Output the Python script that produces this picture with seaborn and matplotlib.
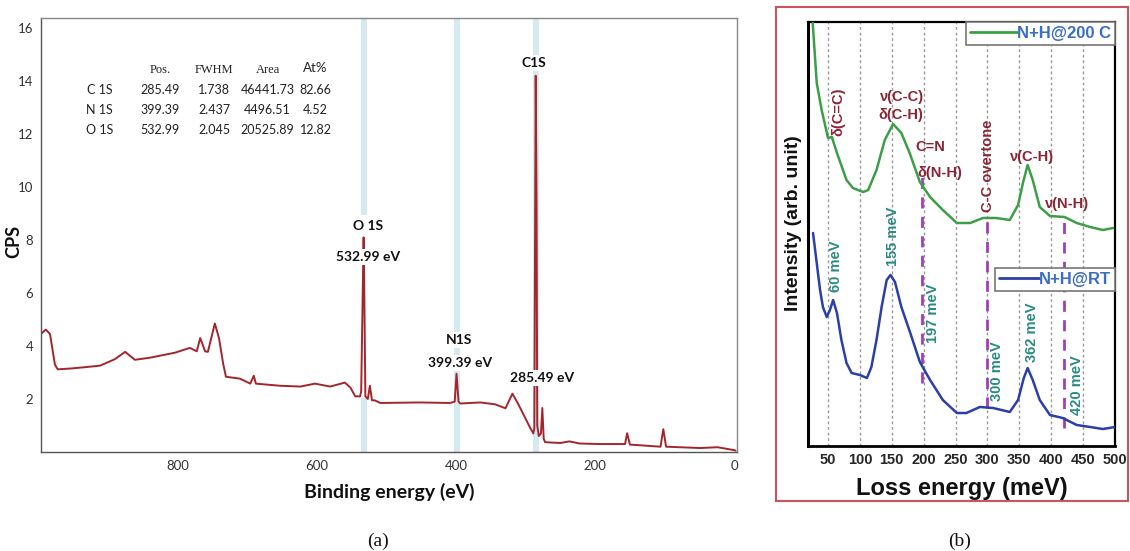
import numpy as np
import pandas as pd
import matplotlib
matplotlib.use("Agg")
import matplotlib.pyplot as plt
import seaborn as sns
from matplotlib.patches import Rectangle
from matplotlib.ticker import MultipleLocator
from matplotlib.lines import Line2D
from matplotlib.font_manager import FontProperties

# ---------------- Panel (a): XPS survey ----------------
xps_energy = [997, 990, 984, 977, 973, 955, 934, 912, 891, 876, 862, 840, 804, 783,
              773, 768, 761, 757, 747, 741, 735, 731, 711, 696, 691, 688, 653, 624,
              603, 581, 560, 552, 545, 538, 536.5, 534, 533, 532, 530.5, 527, 524,
              521, 517, 509, 452, 409, 402, 399.4, 396.5, 394, 365, 344, 329, 319,
              311, 294, 289, 287.5, 285.5, 284.3, 283.3, 281, 278, 276, 274, 272,
              250, 237, 222, 193, 157, 154, 150, 106, 102, 98, 49, 24, 0, -2]
xps_cps = [4.46, 4.62, 4.45, 3.3, 3.12, 3.15, 3.2, 3.26, 3.5, 3.78, 3.48, 3.56, 3.75, 3.93,
           3.8, 4.3, 3.8, 3.78, 4.85, 4.3, 3.33, 2.84, 2.77, 2.58, 2.88, 2.58, 2.5, 2.47,
           2.58, 2.47, 2.62, 2.43, 2.1, 2.1, 2.3, 6.5, 8.1, 6.0, 2.1, 2.0, 2.5,
           1.95, 1.95, 1.85, 1.87, 1.85, 1.9, 2.95, 1.9, 1.83, 1.87, 1.8, 1.65, 2.2,
           1.83, 0.94, 0.7, 0.9, 14.2, 9.5, 1.0, 0.6, 0.7, 1.66, 0.5, 0.37,
           0.34, 0.4, 0.32, 0.3, 0.3, 0.71, 0.28, 0.2, 0.86, 0.2, 0.15, 0.18, 0.07, 0.05]

peak_names = ["C1S", "O 1S", "N1S"]
peak_positions = [285.49, 532.99, 399.39]
peak_value_labels = ["285.49 eV", "532.99 eV", "399.39 eV"]

table_header = ["Pos.", "FWHM", "Area", "At%"]
table_rows = ["C 1S", "N 1S", "O 1S"]
table_pos = ["285.49", "399.39", "532.99"]
table_fwhm = ["1.738", "2.437", "2.045"]
table_area = ["46441.73", "4496.51", "20525.89"]
table_at = ["82.66", "4.52", "12.82"]

# ---------------- Panel (b): HREELS ----------------
green_energy = [26, 32.3, 40, 50, 56, 64, 79, 89, 105, 113, 126, 139, 152, 165, 178, 194,
                210, 230, 252, 273, 293, 314, 335, 348, 356, 363, 371, 382, 398, 421,
                440, 461, 481, 497]
green_int = [423, 363, 336, 308, 309, 293, 266, 258, 254, 256, 276, 306, 322, 313, 293, 264,
             249, 236, 223, 223, 228, 228, 226, 241, 264, 281, 266, 239, 230, 229,
             223, 219, 216, 218]
blue_energy = [26.5, 37.5, 42, 48, 53, 58, 64, 71, 79, 87, 100, 111, 118, 126, 134, 142,
               148, 155, 165, 179, 194, 210, 230, 252, 267, 288, 309, 335, 348, 357,
               363, 371, 382, 398, 418, 440, 461, 481, 500]
blue_int = [213, 156, 139, 129, 136, 146, 133, 106, 83, 73, 71, 68, 79, 106, 139, 166,
            171, 164, 139, 113, 84, 66, 46, 33, 33, 39, 38, 34, 46, 68,
            78, 66, 46, 31, 28, 21, 19, 17, 19]

marker_energy = [197, 300, 420]
marker_low = [63, 38, 18]
marker_high = [271, 229, 229]

mode_labels = ["δ(C=C)", "ν(C-C)", "δ(C-H)", "C=N", "δ(N-H)", "C-C overtone", "ν(C-H)", "ν(N-H)"]
mode_x = [65.7, 165.5, 164.6, 210, 225.5, 300.8, 370.5, 424]
mode_y = [334, 349, 331, 299, 273, 280, 289, 242]
mode_rot = [90, 0, 0, 0, 0, 90, 0, 0]

mev_labels = ["60 meV", "155 meV", "197 meV", "300 meV", "362 meV", "420 meV"]
mev_x = [62.5, 152, 214, 315.6, 370.5, 441]
mev_y = [180, 210, 133, 75, 114, 61]

series_names = ["N+H@200 C", "N+H@RT"]

# ---------------- Styling ----------------
sns.set_style("white")
plt.rcParams["font.family"] = ["Lato", "DejaVu Sans"]

W, H = 1130, 551
fig = plt.figure(figsize=(W / 100, H / 100), dpi=100)

def fx(px):
    return px / W

def fy(py):
    return 1 - py / H

# ---- panel a ----
ax = fig.add_axes([fx(41), fy(452), (737 - 41) / W, (452 - 18) / H])
dfa = pd.DataFrame({"energy": xps_energy, "cps": xps_cps})
band_c = "#d4eaf0"
ax.axvspan(285.5 - 4.3, 285.5 + 4.3, color=band_c, lw=0, zorder=0)
ax.axvspan(399.4 - 4.3, 399.4 + 4.3, color=band_c, lw=0, zorder=0)
ax.axvspan(533.0 - 4.3, 533.0 + 4.3, ymin=0.546, ymax=1, color=band_c, lw=0, zorder=0)
ax.axvspan(533.0 - 4.3, 533.0 + 4.3, ymin=0, ymax=0.1245, color=band_c, lw=0, zorder=0)
sns.lineplot(data=dfa, x="energy", y="cps", ax=ax, color="#a3262c", lw=1.4,
             estimator=None, sort=True, legend=False, zorder=2)
ax.set_xlim(997, -4)
ax.set_ylim(0, 16.38)
ax.set_xticks([800, 600, 400, 200, 0])
ax.xaxis.set_minor_locator(MultipleLocator(50))
ax.set_yticks([2, 4, 6, 8, 10, 12, 14, 16])
ax.yaxis.set_minor_locator(MultipleLocator(1))
ax.tick_params(axis="both", which="both", direction="out", color="#666", labelcolor="#333",
               labelsize=9.5, width=0.8)
ax.tick_params(axis="both", which="major", length=3, pad=2.5)
ax.tick_params(axis="both", which="minor", length=2)
for s in ["left", "bottom"]:
    ax.spines[s].set_color("#555")
    ax.spines[s].set_linewidth(1.0)
for s in ["top", "right"]:
    ax.spines[s].set_color("#888")
    ax.spines[s].set_linewidth(1.0)
ax.set_xlabel("")
ax.set_ylabel("")
ax.text(0.5, -(492 - 452) / 434, "Binding energy (eV)", transform=ax.transAxes,
        fontsize=14, fontweight="bold", color="#111", ha="center", va="center")
ax.text(-(41 - 14) / 696, (452 - 241) / 434, "CPS", transform=ax.transAxes, rotation=90,
        fontsize=13, fontweight="bold", color="#111", ha="center", va="center")

lab_kw = dict(fontsize=10, fontweight="bold", color="#111", ha="center", va="center",
              zorder=5, bbox=dict(facecolor="white", edgecolor="none", pad=1.5))
ax.text(287.8, 14.69, peak_names[0], **lab_kw)
ax.text(275.8, 2.79, peak_value_labels[0], **lab_kw)
ax.text(527.0, 8.53, peak_names[1], **lab_kw)
ax.text(527.0, 7.36, peak_value_labels[1], **lab_kw)
ax.text(396.0, 4.23, peak_names[2], **lab_kw)
ax.text(394.0, 3.36, peak_value_labels[2], **lab_kw)

col_x = [160, 214, 267.5, 315.5]
serif = ["Liberation Serif", "DejaVu Serif"]
for i, h in enumerate(table_header):
    fam = serif if i < 3 else ["Lato", "DejaVu Sans"]
    fig.text(fx(col_x[i]), fy(70 if i < 3 else 68), h, ha="center", va="center",
             fontsize=9 if i < 3 else 9.5, family=fam, color="#222")
row_y = [90, 110, 130]
for r in range(3):
    fig.text(fx(99.5), fy(row_y[r]), table_rows[r], ha="center", va="center", fontsize=9, color="#222")
    vals = [table_pos[r], table_fwhm[r], table_area[r], table_at[r]]
    for c, v in enumerate(vals):
        fig.text(fx(col_x[c]), fy(row_y[r]), v, ha="center", va="center", fontsize=9, color="#222")

# ---- panel b ----
bx = fig.add_axes([fx(808), fy(446), (1115 - 808) / W, (446 - 22) / H])
green = "#3d9e48"
blue = "#2a3fa8"
arial_b = ["Liberation Sans", "DejaVu Sans"]
dfg = pd.DataFrame({"energy": green_energy, "intensity": green_int})
dfb = pd.DataFrame({"energy": blue_energy, "intensity": blue_int})
bx.set_xlim(18.6, 500)
bx.set_ylim(0, 424)
bx.xaxis.set_major_locator(MultipleLocator(50))
bx.xaxis.set_minor_locator(MultipleLocator(25))
bx.grid(axis="x", which="major", linestyle=(0, (2, 2)), color="#999", lw=1.0, zorder=0)
bx.vlines(marker_energy, marker_low, marker_high, colors="#a040b4",
          linestyles=(0, (4, 3)), lw=2.0, zorder=1)
sns.lineplot(data=dfg, x="energy", y="intensity", ax=bx, color=green, lw=1.8,
             estimator=None, legend=False, zorder=3)
sns.lineplot(data=dfb, x="energy", y="intensity", ax=bx, color=blue, lw=1.8,
             estimator=None, legend=False, zorder=3)
bx.set_yticks([])
bx.set_xlabel("")
bx.set_ylabel("")
for s in bx.spines.values():
    s.set_color("black")
    s.set_linewidth(1.6)
bx.spines["left"].set_linewidth(2.2)
bx.spines["bottom"].set_linewidth(2.0)
bx.tick_params(axis="x", which="both", direction="in", color="black", width=1.5)
bx.tick_params(axis="x", which="major", length=5, pad=5)
bx.tick_params(axis="x", which="minor", length=3)
for t in bx.get_xticklabels():
    t.set_fontfamily(arial_b)
    t.set_fontweight("bold")
    t.set_fontsize(10.5)
bx.text(0.5, -(488 - 446) / 424, "Loss energy (meV)", transform=bx.transAxes,
        fontsize=17, fontweight="bold", family=arial_b, color="#111", ha="center", va="center")
bx.text(-(808 - 793) / 307, (446 - 223) / 424, "Intensity (arb. unit)", transform=bx.transAxes,
        rotation=90, fontsize=14, fontweight="bold", family=arial_b, color="#111",
        ha="center", va="center")

for t, x, y, r in zip(mode_labels, mode_x, mode_y, mode_rot):
    bx.text(x, y, t, rotation=r, ha="center", va="center", fontsize=10.5,
            fontweight="bold", color="#8c2434", family=arial_b, zorder=4)
for t, x, y in zip(mev_labels, mev_x, mev_y):
    bx.text(x, y, t, rotation=90, ha="center", va="center", fontsize=10.5,
            fontweight="bold", color="#2a8a82", family=arial_b, zorder=4)

leg_prop = FontProperties(family=arial_b, weight="bold", size=12)
leg1 = bx.legend([Line2D([], [], color=green, lw=2)], [series_names[0]], loc="upper right",
                 bbox_to_anchor=(1.0, 1.0), borderaxespad=0, frameon=True, fancybox=False,
                 edgecolor="#777", framealpha=1, handlelength=2.8, handletextpad=0.0,
                 borderpad=0.25, prop=leg_prop, labelcolor="#3a6ec4")
leg1.get_frame().set_linewidth(1.2)
bx.add_artist(leg1)
leg2 = bx.legend([Line2D([], [], color=blue, lw=2)], [series_names[1]], loc="upper right",
                 bbox_to_anchor=(1.0, (446 - 268) / 424), borderaxespad=0, frameon=True,
                 fancybox=False, edgecolor="#777", framealpha=1, handlelength=2.4,
                 handletextpad=0.0, borderpad=0.25, prop=leg_prop, labelcolor="#3a6ec4")
leg2.get_frame().set_linewidth(1.2)

fig.patches.append(Rectangle((fx(776), fy(501)), (1128 - 776) / W, (501 - 7) / H,
                             transform=fig.transFigure, fill=False, edgecolor="#c9565c", lw=1.5))

fig.text(fx(378), fy(541), "(a)", ha="center", va="center", fontsize=14, family=serif, color="#111")
fig.text(fx(960), fy(541), "(b)", ha="center", va="center", fontsize=14, family=serif, color="#111")

fig.savefig("out.png", dpi=100)
